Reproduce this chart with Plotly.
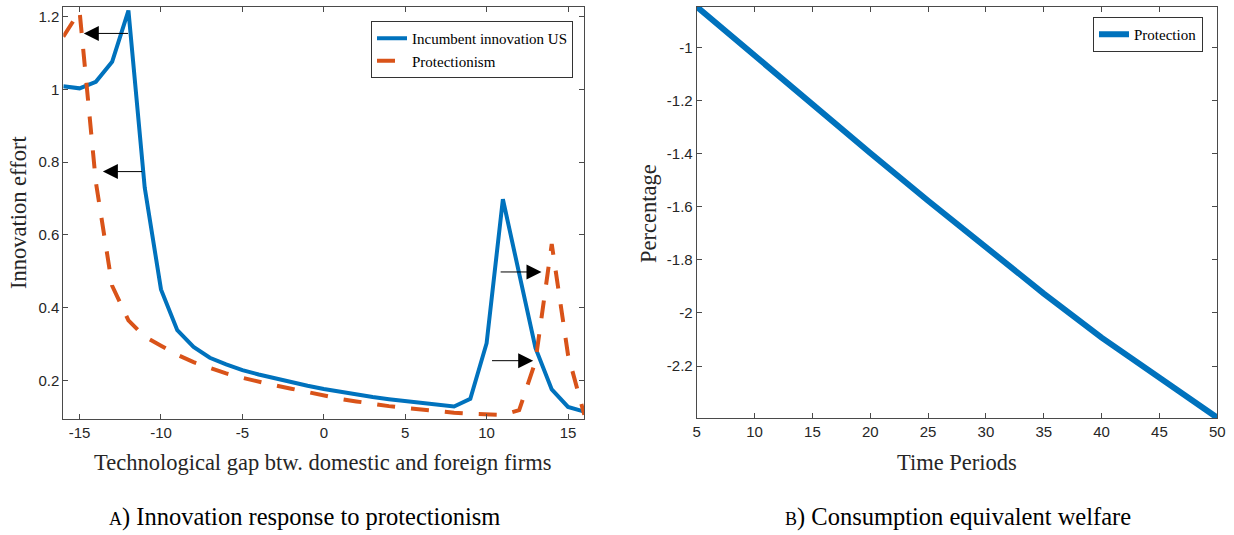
import plotly.graph_objects as go

# ---------------- data ----------------
gap = list(range(-16, 17))
incumbent_us = [1.009, 1.003, 1.021, 1.076, 1.217, 0.73, 0.45, 0.338, 0.292, 0.262,
                0.244, 0.228, 0.216, 0.205, 0.195, 0.185, 0.176, 0.168, 0.161, 0.154,
                0.148, 0.143, 0.138, 0.133, 0.128, 0.149, 0.302, 0.698, 0.493, 0.289,
                0.175, 0.127, 0.114]
protectionism = [1.145, 1.215, 0.745, 0.46, 0.365, 0.32, 0.295, 0.27, 0.25, 0.234,
                 0.219, 0.207, 0.196, 0.186, 0.177, 0.167, 0.157, 0.149, 0.142, 0.135,
                 0.129, 0.124, 0.119, 0.115, 0.111, 0.108, 0.106, 0.105, 0.118, 0.252,
                 0.575, 0.27, 0.105]

periods = [5, 10, 15, 20, 25, 30, 35, 40, 45, 50]
welfare = [-0.846, -1.032, -1.215, -1.397, -1.577, -1.754, -1.927, -2.093, -2.245, -2.395]

# arrows: (tail_x, head_x, y)
arrow_tail_x = [-11.93, -11.07, 10.77, 10.24]
arrow_head_x = [-14.74, -13.57, 13.37, 12.86]
arrow_y = [1.154, 0.774, 0.498, 0.254]

left_xticks = [-15, -10, -5, 0, 5, 10, 15]
left_xticktext = ["-15", "-10", "-5", "0", "5", "10", "15"]
left_yticks = [0.2, 0.4, 0.6, 0.8, 1.0, 1.2]
left_yticktext = ["0.2", "0.4", "0.6", "0.8", "1", "1.2"]
right_xticks = [5, 10, 15, 20, 25, 30, 35, 40, 45, 50]
right_yticks = [-2.2, -2.0, -1.8, -1.6, -1.4, -1.2, -1.0]
right_yticktext = ["-2.2", "-2", "-1.8", "-1.6", "-1.4", "-1.2", "-1"]

# ---------------- figure ----------------
W, H = 1234, 535
BLUE = "#0072BD"
ORANGE = "#D95319"
AX = "#4a4a4a"
TXT = "#262626"
SERIF = "Liberation Serif"
SANS = "Liberation Sans"

def px(x):
    return x / W

def py(y):
    return (H - y) / H

fig = go.Figure()
fig.add_trace(go.Scatter(x=gap, y=incumbent_us, mode="lines", name="Incumbent innovation US",
                         line=dict(color=BLUE, width=4), xaxis="x", yaxis="y", legend="legend"))
fig.add_trace(go.Scatter(x=gap, y=protectionism, mode="lines", name="Protectionism",
                         line=dict(color=ORANGE, width=4, dash="18px,16px"),
                         xaxis="x", yaxis="y", legend="legend"))
fig.add_trace(go.Scatter(x=periods, y=welfare, mode="lines", name="Protection",
                         line=dict(color=BLUE, width=6), xaxis="x2", yaxis="y2", legend="legend2"))

axis_common = dict(showline=True, linecolor=AX, linewidth=1, mirror="allticks",
                   ticks="inside", ticklen=5, tickcolor=AX, tickwidth=1,
                   showgrid=False, zeroline=False, automargin=False,
                   tickfont=dict(family=SANS, size=15, color=TXT))

fig.update_layout(
    width=W, height=H, margin=dict(l=0, r=0, t=0, b=0),
    paper_bgcolor="white", plot_bgcolor="white",
    xaxis=dict(domain=[px(63.3), px(584.3)], range=[-16, 16], anchor="y",
               tickvals=left_xticks, ticktext=left_xticktext, **axis_common),
    yaxis=dict(domain=[py(419), py(6.7)], range=[0.0936, 1.2275], anchor="x",
               tickvals=left_yticks, ticktext=left_yticktext, **axis_common),
    xaxis2=dict(domain=[px(696.7), px(1217.3)], range=[5, 50], anchor="y2",
                tickvals=right_xticks, **axis_common),
    yaxis2=dict(domain=[py(418.3), py(6.7)], range=[-2.397, -0.846], anchor="x2",
                tickvals=right_yticks, ticktext=right_yticktext, **axis_common),
    legend=dict(x=px(573), y=py(21), xanchor="right", yanchor="top",
                bgcolor="white", bordercolor="#333333", borderwidth=1,
                font=dict(family=SERIF, size=15, color="black"), tracegroupgap=0),
    legend2=dict(x=px(1203), y=py(17), xanchor="right", yanchor="top",
                 bgcolor="white", bordercolor="#333333", borderwidth=1,
                 font=dict(family=SERIF, size=15, color="black")),
    showlegend=True,
    hovermode=False,
)

ann = []
for tx, hx, yy in zip(arrow_tail_x, arrow_head_x, arrow_y):
    ann.append(dict(x=hx, y=yy, ax=tx, ay=yy, xref="x", yref="y", axref="x", ayref="y",
                    showarrow=True, arrowhead=2, arrowsize=3, arrowwidth=1,
                    arrowcolor="black", text=""))

title_font = dict(family=SERIF, size=22.5, color=TXT)
def label(text, x, y, font, angle=0):
    return dict(text=text, x=px(x), y=py(y), xref="paper", yref="paper",
                xanchor="center", yanchor="middle", textangle=angle,
                showarrow=False, font=font)

ann += [
    label("Innovation effort", 18, 213, title_font, -90),
    label("Technological gap btw. domestic and foreign firms", 322, 462, title_font),
    label("Percentage", 648, 213, title_font, -90),
    label("Time Periods", 957, 462, title_font),
    label('<span style="font-size:18px">A</span>) Innovation response to protectionism',
          304.5, 517, dict(family=SERIF, size=24.5, color="black")),
    label('<span style="font-size:18px">B</span>) Consumption equivalent welfare',
          957.5, 517, dict(family=SERIF, size=24.5, color="black")),
]
fig.update_layout(annotations=ann)

fig.write_html("out.html", config={"displayModeBar": False},
               post_script="document.body.style.margin='0';")
